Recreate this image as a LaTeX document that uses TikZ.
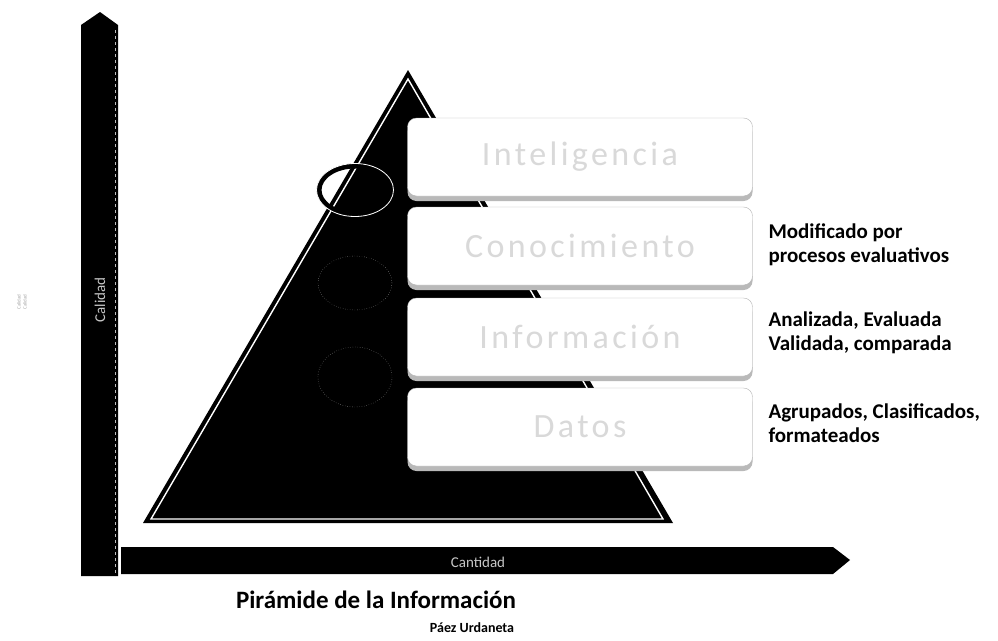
\documentclass[tikz,border=0pt]{standalone}
\usepackage{fontspec}
\setmainfont{Carlito}
\setsansfont{Carlito}
\usetikzlibrary{shadows}

\tikzset{
    levelbox/.style={draw=gray!60, fill=white, rounded corners=9pt,
        minimum width=345pt, minimum height=78pt, text=gray!30,
        font=\fontsize{34}{34}\selectfont\addfontfeatures{LetterSpace=10},
        drop shadow={shadow xshift=0pt, shadow yshift=-5pt, fill=gray!55, opacity=1}},
    sidelabel/.style={anchor=west, align=left, font=\bfseries\fontsize{21}{24}\selectfont},
    barlabel/.style={text=gray!45, font=\fontsize{15}{15}\selectfont}
}

\begin{document}
\begin{tikzpicture}[x=1pt, y=-1pt]
        \useasboundingbox (0,0) rectangle (998,640);
        % ejes
        \fill[black] (81,576) -- (81,25) -- (100,12) -- (118,25) -- (118,576) -- cycle;
        \draw[gray!50, dashed] (115,30) -- (115,574);
        \fill[black] (121,547) -- (833,547) -- (850,560) -- (833,574) -- (121,574) -- cycle;
        \node[barlabel, rotate=90] (calidad) at (100,300) {Calidad};
        \node[barlabel] (cantidad) at (478,562) {Cantidad};
        \node[rotate=90, align=center, text=gray!70, font=\fontsize{5}{6}\selectfont] (nota) at (22,302) {Calidad\\Calidad};
        % piramide
        \fill[black] (408,70) -- (673,523) -- (143,523) -- cycle;
        \draw[white, line width=1.4pt] (408,79) -- (663,519) -- (151,519) -- cycle;
        \draw[black, line width=5pt] (355,190) ellipse (36 and 24);
        \draw[white, line width=0.8pt] (355,190) ellipse (38.5 and 26.5);
        \foreach \cy/\ry in {283/27, 377/30}
            {\draw[gray!60, dotted] (355,\cy) ellipse (37 and \ry);}
        % niveles
        \foreach \name/\txt/\top in {
            intel/Inteligencia/118,
            conoc/Conocimiento/207,
            inform/Información/298,
            datos/Datos/388
        } {
            \node[levelbox] (\name) at (580,\top+39) {\txt};
        }
        \node[sidelabel] (modif) at (765,245) {Modificado por\\procesos evaluativos};
        \node[sidelabel] (anali) at (765,333) {Analizada, Evaluada\\Validada, comparada};
        \node[sidelabel] (agrup) at (765,423) {Agrupados, Clasificados,\\formateados};
        % titulo
        \node[font=\bfseries\fontsize{25}{25}\selectfont] (titulo) at (376,600) {Pirámide de la Información};
        \node[font=\bfseries\fontsize{14}{14}\selectfont] (autor) at (472,628) {Páez Urdaneta};
    \end{tikzpicture}
\end{document}
